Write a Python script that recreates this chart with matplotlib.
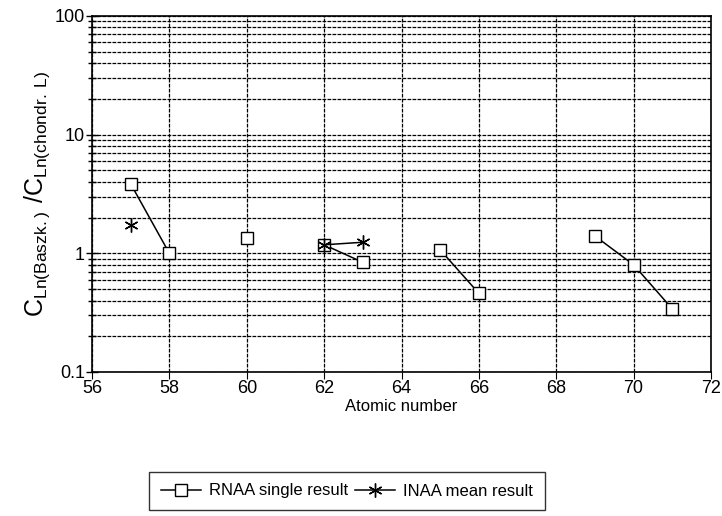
# REE pattern: Baszkowka vs chondrite L, normalised
import numpy as np
import matplotlib.pyplot as plt
from matplotlib.ticker import FuncFormatter, LogLocator

plt.rcParams['font.family'] = ['Liberation Sans', 'DejaVu Sans']

# RNAA single results (NaN breaks the line between groups)
rnaa_z = [57, 58, np.nan, 60, np.nan, 62, 63, np.nan, 65, 66, np.nan, 69, 70, 71]
rnaa_val = [3.85, 1.0, np.nan, 1.35, np.nan, 1.18, 0.84, np.nan, 1.07, 0.46, np.nan, 1.4, 0.8, 0.34]

# INAA mean results
inaa_z = [57, np.nan, 62, 63]
inaa_val = [1.72, np.nan, 1.18, 1.24]

fig = plt.figure(figsize=(7.22, 5.16), dpi=100)
ax = fig.add_axes([92/722, 1 - 372/516, 619/722, 356/516])

ax.plot(rnaa_z, rnaa_val, color='k', lw=1.1, marker='s', ms=8,
        mfc='white', mec='k', mew=1.0, label='RNAA single result')
ax.plot(inaa_z, inaa_val, color='k', lw=1.1, marker=(6, 2, 0), ms=10,
        mec='k', mew=1.0, label='INAA mean result')

ax.set_yscale('log')
ax.set_ylim(0.1, 100)
ax.set_xlim(56, 72)
ax.set_xticks(range(56, 73, 2))
ax.yaxis.set_major_locator(LogLocator(base=10, numticks=10))
ax.yaxis.set_minor_locator(LogLocator(base=10, subs=np.arange(2, 10), numticks=10))
ax.yaxis.set_major_formatter(FuncFormatter(lambda v, p: '%g' % v))
ax.yaxis.set_minor_formatter(FuncFormatter(lambda v, p: ''))

ax.grid(True, which='both', axis='y', color='k', ls=(0, (3, 1)), lw=0.9)
ax.grid(True, which='major', axis='x', color='k', ls=(0, (3, 1)), lw=0.9)
ax.set_axisbelow(True)

ax.tick_params(axis='y', which='major', direction='inout', length=8, labelsize=13, width=1, pad=1)
ax.tick_params(axis='y', which='minor', direction='inout', length=6, width=1)
ax.tick_params(axis='x', direction='out', length=5, labelsize=13, pad=1)
for s in ax.spines.values():
    s.set_linewidth(1.2)

ax.set_xlabel('Atomic number', fontsize=12, labelpad=1)
ax.set_ylabel(r'$\mathregular{C_{Ln(Baszk.)}\ /C_{Ln(chondr.\,L)}}$', fontsize=18, labelpad=2)

leg = fig.legend(loc='center', bbox_to_anchor=(347/722, 1 - 491/516), ncol=2,
                 fontsize=12, frameon=True, fancybox=False, edgecolor='k',
                 handlelength=2.4, columnspacing=0.4, handletextpad=0.5,
                 borderpad=0.7)
leg.get_frame().set_linewidth(1.0)

plt.savefig('out.png', dpi=100)
plt.close()
